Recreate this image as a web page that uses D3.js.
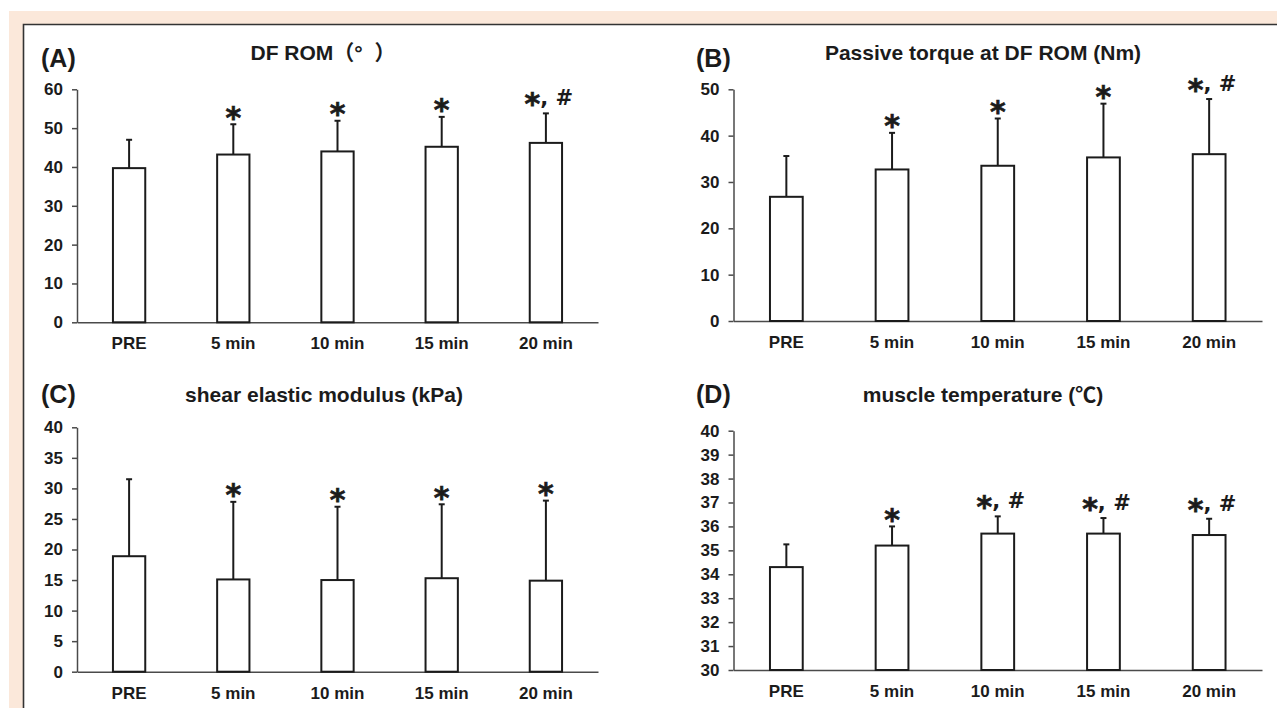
<!doctype html>
<html lang="en">
<head>
    <meta charset="UTF-8">
    <title>Stretching time course</title>
    <style>
        body { margin: 0; background: #fff; }
        svg { display: block; font-family: "Liberation Sans", Arial, "Noto Sans CJK JP", sans-serif; }
        .bar { fill: #fff; stroke: #1b1b1b; stroke-width: 2px; }
        .err { stroke: #1b1b1b; stroke-width: 2px; }
        .axis path, .axis line { stroke: #4a4a4a; stroke-width: 1.5px; }
        .axis text { font-size: 17px; font-weight: bold; fill: #1b1b1b; font-family: "Liberation Sans", Arial, sans-serif; }
        .letter { font-size: 25px; font-weight: bold; fill: #1b1b1b; }
        .title { font-size: 21px; font-weight: bold; fill: #1b1b1b; }
        .mark { font-family: "DejaVu Sans", sans-serif; font-weight: bold; fill: #1b1b1b; }
        .star { stroke: #1b1b1b; stroke-width: 0.7px; }
    </style>
</head>
<body>
    <svg width="1277" height="708"></svg>
    <script src="https://cdn.jsdelivr.net/npm/d3@7"></script>
    <script>
        const categories = ["PRE", "5 min", "10 min", "15 min", "20 min"];

        // (A) DF ROM
        const romMean = [39.7, 43.2, 44.0, 45.2, 46.2];
        const romSD = [7.3, 7.8, 7.9, 7.7, 7.6];
        const romMarks = ["", "*", "*", "*", "*, #"];
        const romTicks = [0, 10, 20, 30, 40, 50, 60];

        // (B) passive torque
        const torqueMean = [26.8, 32.7, 33.5, 35.3, 36.0];
        const torqueSD = [8.8, 7.9, 10.2, 11.6, 11.9];
        const torqueMarks = ["", "*", "*", "*", "*, #"];
        const torqueTicks = [0, 10, 20, 30, 40, 50];

        // (C) shear elastic modulus
        const shearMean = [18.9, 15.1, 15.0, 15.3, 14.9];
        const shearSD = [12.6, 12.7, 12.0, 12.1, 13.1];
        const shearMarks = ["", "*", "*", "*", "*"];
        const shearTicks = [0, 5, 10, 15, 20, 25, 30, 35, 40];

        // (D) muscle temperature
        const tempMean = [34.3, 35.2, 35.7, 35.7, 35.64];
        const tempSD = [0.95, 0.8, 0.72, 0.65, 0.68];
        const tempMarks = ["", "*", "*, #", "*, #", "*, #"];
        const tempTicks = [30, 31, 32, 33, 34, 35, 36, 37, 38, 39, 40];

        const panels = [
            {letter: "(A)", title: "DF ROM（°\u00a0\u00a0）", mean: romMean, sd: romSD, marks: romMarks, ticks: romTicks,
             x0: 77, x1: 598, yTop: 89.3, yBot: 322.3, lx: 41, ly: 67, tx: 323, ty: 60},
            {letter: "(B)", title: "Passive torque at DF ROM (Nm)", mean: torqueMean, sd: torqueSD, marks: torqueMarks, ticks: torqueTicks,
             x0: 733.5, x1: 1262, yTop: 89.3, yBot: 321, lx: 696, ly: 67, tx: 983, ty: 60},
            {letter: "(C)", title: "shear elastic modulus (kPa)", mean: shearMean, sd: shearSD, marks: shearMarks, ticks: shearTicks,
             x0: 77, x1: 598, yTop: 427.3, yBot: 671.7, lx: 41, ly: 403, tx: 324, ty: 402},
            {letter: "(D)", title: "muscle temperature (℃)", mean: tempMean, sd: tempSD, marks: tempMarks, ticks: tempTicks,
             x0: 733.5, x1: 1262, yTop: 430.7, yBot: 670, lx: 696, ly: 403, tx: 983, ty: 402}
        ];

        const svg = d3.select("svg");

        // page frame
        svg.append("rect").attr("x", 9).attr("y", 11).attr("width", 1268).attr("height", 697).attr("fill", "#fbe8da");
        svg.append("rect").attr("x", 23).attr("y", 24).attr("width", 1254).attr("height", 684).attr("fill", "#fff");
        svg.append("path").attr("d", "M23.5,708V24.5H1277").attr("fill", "none").attr("stroke", "#333").attr("stroke-width", 1.6);

        panels.forEach(p => {
            const g = svg.append("g");
            const x = d3.scaleBand().domain(categories).range([p.x0, p.x1])
                .paddingInner(0.69).paddingOuter(0.345);
            const y = d3.scaleLinear().domain(d3.extent(p.ticks)).range([p.yBot, p.yTop]);

            g.append("g").attr("class", "axis")
                .attr("transform", "translate(" + p.x0 + ",0)")
                .call(d3.axisLeft(y).tickValues(p.ticks).tickSize(5).tickPadding(9).tickSizeOuter(0));

            g.append("g").attr("class", "axis")
                .attr("transform", "translate(0," + p.yBot + ")")
                .call(d3.axisBottom(x).tickSize(0).tickPadding(15).tickSizeOuter(0));

            const rows = categories.map((c, i) => ({c: c, m: p.mean[i], s: p.sd[i], mark: p.marks[i]}));
            const base = y.domain()[0];

            // error bars (upper only)
            g.selectAll(".err-v").data(rows).join("line")
                .attr("class", "err")
                .attr("x1", d => x(d.c) + x.bandwidth() / 2)
                .attr("x2", d => x(d.c) + x.bandwidth() / 2)
                .attr("y1", d => y(d.m))
                .attr("y2", d => y(d.m + d.s));
            g.selectAll(".err-cap").data(rows).join("line")
                .attr("class", "err")
                .attr("x1", d => x(d.c) + x.bandwidth() / 2 - 3)
                .attr("x2", d => x(d.c) + x.bandwidth() / 2 + 3)
                .attr("y1", d => y(d.m + d.s))
                .attr("y2", d => y(d.m + d.s));

            g.selectAll(".bar").data(rows).join("rect")
                .attr("class", "bar")
                .attr("x", d => x(d.c))
                .attr("width", x.bandwidth())
                .attr("y", d => y(d.m))
                .attr("height", d => y(base) - y(d.m));

            // significance marks
            const marks = g.selectAll(".mark").data(rows.filter(d => d.mark)).join("text")
                .attr("class", "mark")
                .attr("text-anchor", "middle")
                .attr("x", d => x(d.c) + x.bandwidth() / 2 + (d.mark.length > 1 ? 3 : 0))
                .attr("y", d => y(d.m + d.s) - (d.mark.length > 1 ? 8 : 5.5));
            marks.append("tspan").attr("class", "star").attr("font-size", 30).attr("dy", 9).text("*");
            marks.filter(d => d.mark.length > 1).append("tspan")
                .attr("font-size", 21).attr("dy", -9).text(d => d.mark.slice(1));

            g.append("text").attr("class", "letter").attr("x", p.lx).attr("y", p.ly).text(p.letter);
            g.append("text").attr("class", "title").attr("text-anchor", "middle")
                .attr("x", p.tx).attr("y", p.ty).text(p.title);
        });
    </script>
</body>
</html>
